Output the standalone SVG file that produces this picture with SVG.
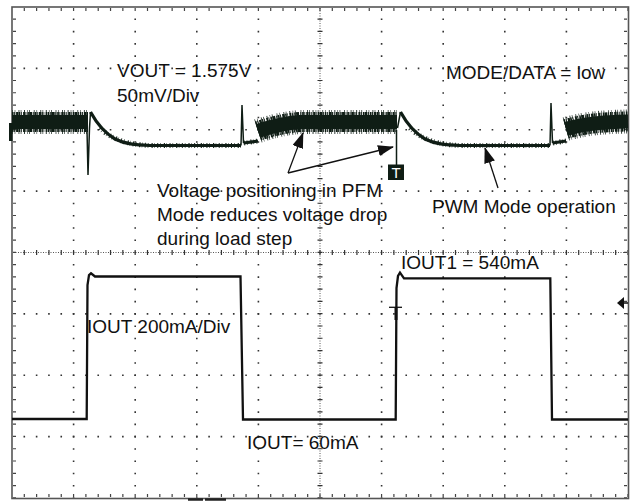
<svg xmlns="http://www.w3.org/2000/svg" width="633" height="501" viewBox="0 0 633 501">
<defs>
<style>
.grid{fill:none;stroke:#333;stroke-width:1.6}
.gv{stroke-dasharray:1.6 10.675}
.gh{stroke-dasharray:1.6 10.72}
.fine{fill:none;stroke:#555;stroke-width:1;stroke-dasharray:1 1.5}
.tickv{fill:none;stroke:#333;stroke-width:5;stroke-dasharray:1.2 11.075}
.tickh{fill:none;stroke:#333;stroke-width:5;stroke-dasharray:1.2 11.12}
.btick{fill:none;stroke:#444;stroke-width:3}
.lbl{font-family:"Liberation Sans",Arial,sans-serif;font-size:19px;fill:#111}
.core{fill:none;stroke:#0f1d15;stroke-width:14}
.mid{fill:none;stroke:#0f1d15;stroke-width:20;stroke-dasharray:1.6 0.6 0.9 1 2.4 0.5 1.2 0.8 0.7 1.4 1.8 0.5 1 1.2 1.3 0.4 2.8 0.7 0.9 0.9}
.outer{fill:none;stroke:#2e3a34;stroke-width:24;stroke-dasharray:0.8 1.9 0.6 3.2 0.9 1.3 0.7 2.6 1 2.1 0.6 1.5 0.8 3.8}
.vt{fill:none;stroke:#0f1d15;stroke-width:3.2;stroke-linejoin:round}
.vfuzz{fill:none;stroke:#1c2a22;stroke-width:5;stroke-dasharray:1 2 0.6 3 1.2 1.5 0.5 2.5}
.spk{fill:none;stroke:#0f1d15;stroke-width:1.5}
.it{fill:none;stroke:#111;stroke-width:2.3;stroke-linejoin:miter}
.arr{fill:none;stroke:#111;stroke-width:1.3}
</style>
<marker id="ah" markerUnits="userSpaceOnUse" markerWidth="16" markerHeight="11" refX="15" refY="5.5" orient="auto">
<path d="M0,0 L16,5.5 L0,11 z" fill="#111"/>
</marker>
</defs>
<rect x="0" y="0" width="633" height="501" fill="#fff"/>
<g id="grid">
<path class="grid gv" d="M73.6,18.5V498M135.2,18.5V498M196.8,18.5V498M258.4,18.5V498M381.6,18.5V498M443.2,18.5V498M504.8,18.5V498M566.4,18.5V498"/>
<path class="grid gh" d="M23.5,68.4H628M23.5,129.75H628M23.5,191.1H628M23.5,313.9H628M23.5,375.25H628M23.5,436.6H628"/>
<path class="fine" d="M320,8V498M13,252.5H628"/>
<path class="tickv" d="M320,18.5V498"/>
<path class="tickh" d="M23.7,252.5H628"/>
<path class="btick" d="M23.7,9.5H628" style="stroke-dasharray:1.2 11.12"/>
<path class="btick" d="M23.7,495.5H628" style="stroke-dasharray:1.2 11.12"/>
<path class="btick" d="M14.5,18.5V498" style="stroke-dasharray:1.2 11.075"/>
<path class="btick" d="M625.5,18.5V498" style="stroke-dasharray:1.2 11.075"/>
<rect x="12" y="7" width="616.5" height="491.5" fill="none" stroke="#555" stroke-width="1.6"/>
<path d="M188,499.5H203M205,499.5H226" stroke="#222" stroke-width="2.5" fill="none"/>
</g>
<g id="vout-trace">
<path class="outer" d="M12,122H88M258,131C270,127 285,123 300,122H397M566,129C580,125 595,122 628,121.5"/>
<path class="mid" d="M12,122H88M258,131C270,127 285,123 300,122H397M566,129C580,125 595,122 628,121.5"/>
<path class="core" d="M12,122H88M258,131C270,127 285,123 300,122H397M566,129C580,125 595,122 628,121.5"/>
<path class="vfuzz" d="M100,128C106,134 112,138 125,142C135,144.5 140,145 150,145.5H241M244,143L258,141M410,128C416,134 422,138 435,142C445,144.5 450,145 460,145.5H550M553,143L566,141"/>
<path class="vt" d="M90.5,112C96,122 103,132 115,139C125,144 135,145 150,145.5H241M243.5,143L258,141M400.5,112C406,122 413,132 425,139C435,144 445,145 460,145.5H550M552.5,143L566,141"/>
<path class="spk" d="M87,130L88,175L89.5,128L90.5,112M241,145.5L242,105L243.5,143M396.5,130V165M397.5,128L400.5,112M550,145.5L551,103L552.5,143"/>
<rect x="9" y="123" width="3.5" height="18" fill="#0f1d15"/>
<rect x="388" y="164.5" width="16" height="15.5" fill="#0f1d15"/>
<text x="396" y="178" text-anchor="middle" font-family="Liberation Sans,Arial,sans-serif" font-size="15" fill="#fff">T</text>
</g>
<g id="iout-trace">
<path class="it" d="M12,419H86.7L87.5,285L89,275L91,273.3L95,276.5H240.5L243,419.5H395.7L396.5,288L398,276L400,272.7L404,278.3H550.3L552,419.5H628"/>
<path d="M389,307.3H402" stroke="#111" stroke-width="1.3" fill="none"/>
<path d="M396,307.3V320" stroke="#111" stroke-width="3" fill="none"/>
<path d="M617,303L624,297V309z" fill="#111"/>
<path d="M624,303H628" stroke="#111" stroke-width="1.5"/>
</g>
<g id="connectors">
<path class="arr" d="M288,173L303,133" marker-end="url(#ah)"/>
<path class="arr" d="M288,173L393,147" marker-end="url(#ah)"/>
<path class="arr" d="M498,188L485,148" marker-end="url(#ah)"/>
</g>
<g id="label-vout"><text class="lbl" x="117" y="77">VOUT = 1.575V</text><text class="lbl" x="117" y="102">50mV/Div</text></g>
<g id="label-mode"><text class="lbl" x="446" y="79">MODE/DATA = low</text></g>
<g id="label-positioning"><text class="lbl" x="157" y="197">Voltage positioning in PFM</text><text class="lbl" x="157" y="221">Mode reduces voltage drop</text><text class="lbl" x="157" y="245">during load step</text></g>
<g id="label-pwm"><text class="lbl" x="432" y="213">PWM Mode operation</text></g>
<g id="label-iout-div"><text class="lbl" x="87" y="333">IOUT 200mA/Div</text></g>
<g id="label-iout-low"><text class="lbl" x="247" y="449">IOUT= 60mA</text></g>
<g id="label-iout1"><text class="lbl" x="401" y="269">IOUT1 = 540mA</text></g>
</svg>
